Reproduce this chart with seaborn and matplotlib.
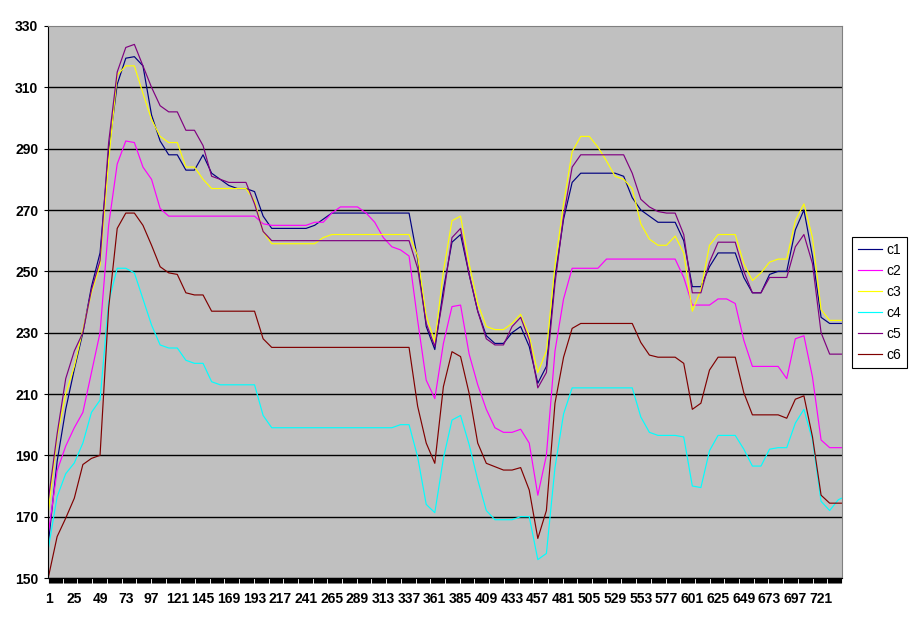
import numpy as np
import pandas as pd
import matplotlib
matplotlib.use("Agg")
import matplotlib.pyplot as plt
import seaborn as sns

cats = list(range(1, 738, 8)) + [740]

c1 = [162, 188, 205, 218, 230, 245, 256, 289, 311, 319.5,
      320, 317, 301, 292.5, 288, 288, 283, 283, 288, 282,
      280, 278, 277, 277, 276, 268, 264, 264, 264, 264,
      264, 265, 267, 269, 269, 269, 269, 269, 269, 269,
      269, 269, 269, 254, 232, 224.5, 244, 259.5, 262, 249,
      237, 229, 226.5, 226.5, 230, 232, 225.5, 213.5, 219, 248,
      267, 279, 282, 282, 282, 282, 282, 281, 274, 270,
      268, 266, 266, 266, 260, 245, 245, 251.5, 256, 256,
      256, 248, 243, 243, 249, 250, 250, 263.5, 270, 255,
      235, 233, 233, 233]

c2 = [165, 185, 193, 199, 204, 217, 230, 265, 285, 292.5,
      292, 284, 280, 270.5, 268, 268, 268, 268, 268, 268,
      268, 268, 268, 268, 268, 265.5, 265, 265, 265, 265,
      265, 266, 266, 269, 271, 271, 271, 269, 266, 261,
      258, 257, 255, 234, 214.5, 208.5, 226.5, 238.5, 239, 223,
      213, 205, 199, 197.5, 197.5, 198.5, 194, 177, 190, 224,
      241, 251, 251, 251, 251, 254, 254, 254, 254, 254,
      254, 254, 254, 254, 248, 239, 239, 239, 241, 241,
      239.5, 227.5, 219, 219, 219, 219, 215, 228, 229, 215.5,
      195, 192.5, 192.5, 192.5]

c3 = [172, 196, 210, 219, 231, 243, 252, 286, 314, 317,
      317, 308, 299.5, 294, 292, 292, 284, 284, 280, 277,
      277, 277, 277, 277, 273, 263, 259, 259, 259, 259,
      259, 259, 261, 262, 262, 262, 262, 262, 262, 262,
      262, 262, 262, 255, 235.5, 227, 250, 266.5, 268, 252.5,
      239.5, 232, 231, 231, 233, 236, 229, 217, 224, 252,
      272, 289, 294, 294, 290.5, 286, 281, 280, 277, 265.5,
      260.5, 258.5, 258.5, 261.5, 256, 237, 244, 258.5, 262, 262,
      262, 252.5, 247, 249.5, 253, 254, 254, 266.5, 272, 261,
      237.5, 234, 234, 234]

c4 = [160, 176.5, 184, 187.5, 194, 204, 208, 240, 251, 251,
      249.5, 241, 232.5, 226, 225, 225, 221, 220, 220, 214,
      213, 213, 213, 213, 213, 203, 199, 199, 199, 199,
      199, 199, 199, 199, 199, 199, 199, 199, 199, 199,
      199, 200, 200, 189.5, 174, 171.3, 189, 201.5, 203, 193.5,
      182, 172, 169, 169, 169, 170, 170, 156, 158, 186,
      203.5, 212, 212, 212, 212, 212, 212, 212, 212, 202.5,
      197.5, 196.5, 196.5, 196.5, 196, 180, 179.5, 191.5, 196.5, 196.5,
      196.5, 192, 186.5, 186.5, 192, 192.5, 192.5, 200.5, 205, 195,
      175, 172, 175.5, 176]

c5 = [176, 197, 215, 224, 230, 244, 253.5, 292, 315, 323,
      324, 317, 310, 304, 302, 302, 296, 296, 291, 281,
      280, 279, 279, 279, 272, 263, 260, 260, 260, 260,
      260, 260, 260, 260, 260, 260, 260, 260, 260, 260,
      260, 260, 260, 251, 233, 225.5, 242, 261, 264, 249,
      237, 228, 226, 226, 232, 235, 227.5, 212, 217, 246,
      268, 284, 288, 288, 288, 288, 288, 288, 282, 273.5,
      271, 269.5, 269, 269, 262, 243, 243, 253, 259.5, 259.5,
      259.5, 250, 243, 243, 248, 248, 248, 258, 262, 252.5,
      230, 223, 223, 223]

c6 = [150.5, 163.5, 169.5, 176, 187, 189, 190, 238, 264, 269,
      269, 265, 258.5, 251.5, 249.5, 249, 243, 242.3, 242.3, 237,
      237, 237, 237, 237, 237, 228, 225.2, 225.2, 225.2, 225.2,
      225.2, 225.2, 225.2, 225.2, 225.2, 225.2, 225.2, 225.2, 225.2, 225.2,
      225.2, 225.2, 225.2, 206, 194, 187.4, 212.4, 223.8, 222.2, 210.2,
      194, 187.4, 186.3, 185.2, 185.2, 186, 178.7, 162.9, 172, 207,
      222, 231.4, 233, 233, 233, 233, 233, 233, 233, 226.8,
      222.7, 222, 222, 222, 220, 205, 207, 217.8, 222, 222,
      222, 210.4, 203.2, 203.2, 203.2, 203.2, 202.1, 208.3, 209.4, 196,
      177, 174.4, 174.4, 174.4]

series_names = ["c1", "c2", "c3", "c4", "c5", "c6"]
colors = {"c1": "#000080", "c2": "#FF00FF", "c3": "#FFFF00",
          "c4": "#00FFFF", "c5": "#800080", "c6": "#800000"}

wide = pd.DataFrame({"c1": c1, "c2": c2, "c3": c3, "c4": c4, "c5": c5, "c6": c6}, index=cats)
wide.index.name = "cat"
long = wide.reset_index().melt(id_vars="cat", var_name="series", value_name="value")

plt.rcParams['font.family'] = ['Liberation Sans', 'DejaVu Sans']

fig = plt.figure(figsize=(9.11, 6.23), dpi=100)
ax = fig.add_axes([48 / 911, 1 - 578 / 623, (842 - 48) / 911, (578 - 26) / 623])

sns.lineplot(data=long, x="cat", y="value", hue="series", hue_order=series_names,
             palette=colors, linewidth=0.85, errorbar=None, ax=ax)

ax.set_facecolor("#C0C0C0")
ax.set_xlim(0.5, 740.5)
ax.set_ylim(150, 330)
ax.set_yticks(range(150, 331, 20))
ax.set_xticks(range(1, 722, 24))
ax.set_xticks(range(1, 741), minor=True)
ax.set_xlabel("")
ax.set_ylabel("")

# horizontal gridlines only, black like the original
ax.set_axisbelow(True)
ax.grid(axis="y", color="black", linewidth=1.0)
ax.yaxis.get_gridlines()[-1].set_visible(False)

for side in ["top", "right"]:
    ax.spines[side].set_color("#808080")
    ax.spines[side].set_linewidth(0.8)
for side in ["left", "bottom"]:
    ax.spines[side].set_color("black")
    ax.spines[side].set_linewidth(0.8)

ax.tick_params(axis="y", length=3, width=0.8, pad=4, labelsize=10)
ax.tick_params(axis="x", which="both", length=3.4, width=0.8, pad=7, labelsize=10)
for lbl in ax.get_xticklabels() + ax.get_yticklabels():
    lbl.set_fontweight("bold")

handles, labels = ax.get_legend_handles_labels()
ax.legend(handles, labels, loc="upper left",
          bbox_to_anchor=(852 / 911, 1 - 237 / 623), bbox_transform=fig.transFigure,
          frameon=True, fancybox=False, edgecolor="black", framealpha=1,
          fontsize=10, handlelength=1.7, labelspacing=0.5, borderpad=0.45,
          handletextpad=0.3, borderaxespad=0)
ax.get_legend().get_frame().set_linewidth(0.8)

fig.savefig("out.png", dpi=100)
